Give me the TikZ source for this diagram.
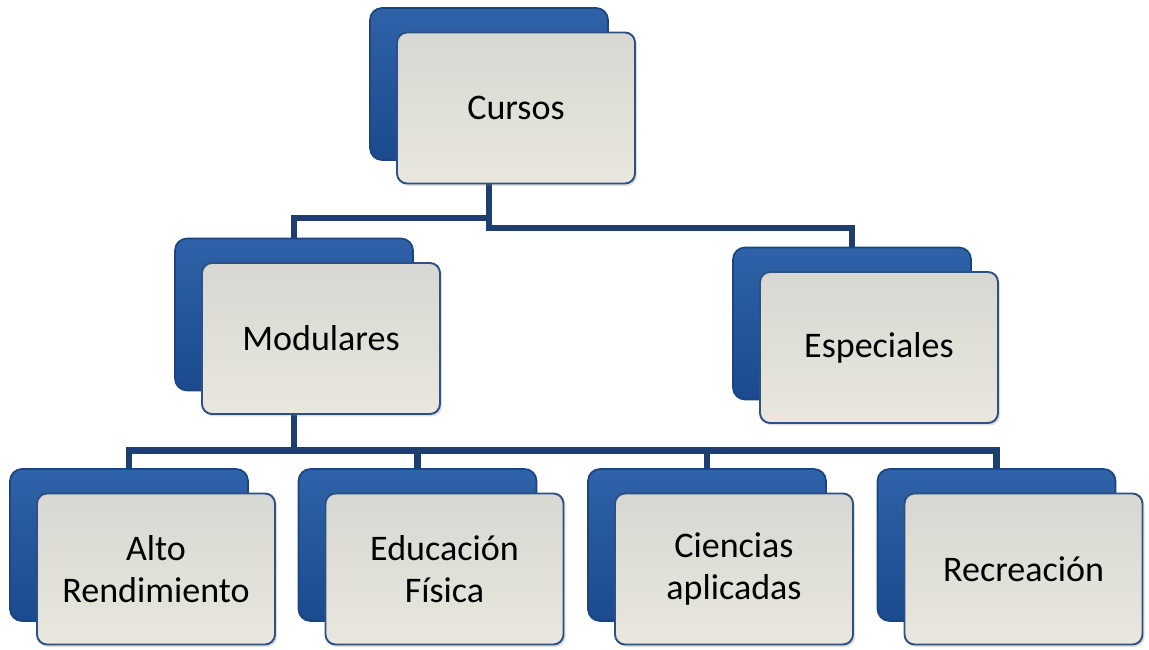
\documentclass[tikz,border=0pt]{standalone}
\usepackage{fontspec}
\setmainfont{Carlito}
\usetikzlibrary{backgrounds,shadows}
\definecolor{boxblue}{HTML}{1A4580}
\definecolor{boxbluetop}{HTML}{2F62A8}
\definecolor{boxbluebot}{HTML}{1B4A8E}
\definecolor{cardtop}{HTML}{D7D8D3}
\definecolor{cardbot}{HTML}{E9E7DD}
\definecolor{cardline}{HTML}{2C5182}
\definecolor{linkblue}{HTML}{1D3E6E}
\begin{document}
\begin{tikzpicture}[
    back/.style={rectangle,rounded corners=0.24cm,minimum width=4.76cm,minimum height=3.04cm,
        inner sep=0pt,outer sep=0pt,top color=boxbluetop,bottom color=boxbluebot,draw=boxblue,line width=1pt},
    front/.style={rectangle,rounded corners=0.2cm,minimum width=4.76cm,minimum height=3.02cm,
        inner sep=0pt,outer sep=0pt,top color=cardtop,bottom color=cardbot,draw=cardline,line width=1.1pt,
        drop shadow={opacity=0.25,shadow xshift=0.04cm,shadow yshift=-0.05cm},
        align=center,font=\fontsize{20.5}{23.5}\selectfont},
    link/.style={draw=linkblue,line width=3.6pt}
]
    \useasboundingbox (0,0) rectangle (22.98,-13);
    % back boxes
    \node[back] (cursosback) at (9.78,-1.68) {};
    \node[back] (modback) at (5.88,-6.29) {};
    \node[back] (espback) at (17.04,-6.47) {};
    \node[back] (altoback) at (2.58,-10.9) {};
    \node[back] (eduback) at (8.35,-10.9) {};
    \node[back] (cienback) at (14.14,-10.9) {};
    \node[back] (recback) at (19.93,-10.9) {};
    % front cards
    \node[front] (cursos) at ([shift={(0.54,-0.48)}]cursosback.center) {Cursos};
    \node[front] (mod) at ([shift={(0.54,-0.48)}]modback.center) {Modulares};
    \node[front] (esp) at ([shift={(0.54,-0.48)}]espback.center) {Especiales};
    \node[front] (alto) at ([shift={(0.54,-0.48)}]altoback.center) {Alto\\Rendimiento};
    \node[front] (edu) at ([shift={(0.54,-0.48)}]eduback.center) {Educación\\Física};
    \node[front] (cien) at ([shift={(0.54,-0.48)}]cienback.center) {Ciencias\\aplicadas};
    \node[front] (rec) at ([shift={(0.54,-0.48)}]recback.center) {Recreación};
    % connectors
    \begin{scope}[on background layer]
        \draw[link] (cursosback.south) -- ([yshift=-1.16cm]cursosback.south) -| (modback.north);
        \draw[link] (cursosback.south) -- ([yshift=-1.36cm]cursosback.south) -| (espback.north);
        \foreach \k in {altoback,eduback,cienback,recback}
            \draw[link] (modback.south) -- ([yshift=-1.2cm]modback.south) -| (\k.north);
    \end{scope}
\end{tikzpicture}
\end{document}
